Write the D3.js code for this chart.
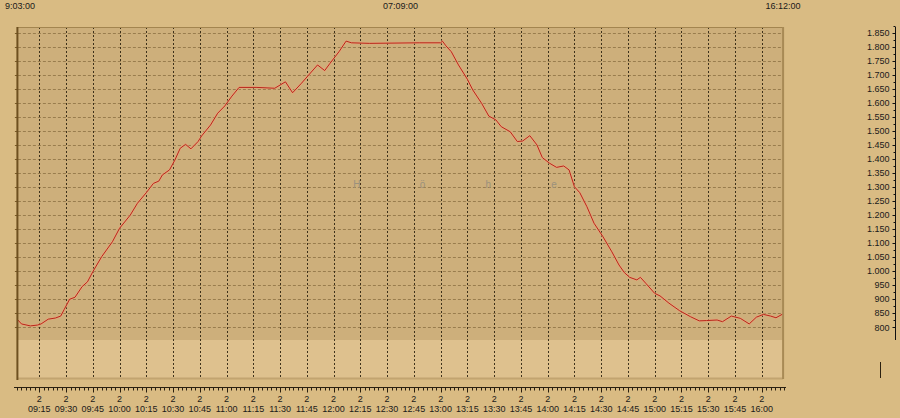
<!DOCTYPE html>
<html>
<head>
<meta charset="utf-8">
<script src="https://cdn.jsdelivr.net/npm/d3@7"></script>
<style>
  html, body { margin: 0; padding: 0; background: #d9bb83; }
  svg { display: block; font-family: "Liberation Sans", Arial, sans-serif; }
</style>
</head>
<body>
<div id="chart"></div>
<script>
// track recording: time of day and elevation (m)
const timeDomain = ["09:03", "16:12"];
const times = [
  "09:03", "09:05", "09:10", "09:14", "09:16", "09:20", "09:24", "09:27", "09:29", "09:32",
  "09:35", "09:39", "09:42", "09:45", "09:50", "09:56", "10:00", "10:06", "10:10", "10:15",
  "10:19", "10:22", "10:24", "10:28", "10:31", "10:34", "10:37", "10:40", "10:44", "10:46",
  "10:51", "10:55", "10:59", "11:03", "11:07", "11:17", "11:27", "11:33", "11:37", "11:42",
  "11:46", "11:51", "11:55", "11:58", "12:03", "12:07", "12:10", "12:20", "12:48", "13:00",
  "13:01", "13:03", "13:06", "13:10", "13:15", "13:18", "13:23", "13:27", "13:31", "13:34",
  "13:39", "13:43", "13:46", "13:50", "13:54", "13:57", "14:01", "14:05", "14:09", "14:12",
  "14:15", "14:18", "14:22", "14:26", "14:31", "14:36", "14:40", "14:43", "14:46", "14:50",
  "14:52", "14:55", "15:00", "15:03", "15:08", "15:14", "15:20", "15:25", "15:29", "15:35",
  "15:38", "15:43", "15:48", "15:53", "15:57", "16:01", "16:05", "16:08", "16:12"
];
const elevations = [
  826, 812, 805, 808, 812, 829, 833, 840, 864, 900,
  907, 945, 962, 998, 1052, 1105, 1153, 1200, 1242, 1280,
  1313, 1321, 1343, 1361, 1396, 1438, 1452, 1436, 1462, 1482,
  1521, 1563, 1589, 1624, 1655, 1655, 1652, 1675, 1636, 1670,
  1699, 1735, 1715, 1741, 1782, 1820, 1814, 1812, 1814, 1814,
  1820, 1803, 1782, 1735, 1684, 1646, 1598, 1553, 1539, 1515,
  1497, 1462, 1464, 1483, 1450, 1405, 1385, 1370, 1375, 1361,
  1301, 1280, 1230, 1171, 1123, 1069, 1022, 995, 978, 969,
  978, 957, 921, 912, 886, 859, 838, 823, 824, 826,
  820, 840, 832, 812, 836, 846, 840, 834, 848
];
const yTicks = [800, 850, 900, 950, 1000, 1050, 1100, 1150, 1200, 1250, 1300,
  1350, 1400, 1450, 1500, 1550, 1600, 1650, 1700, 1750, 1800, 1850];
const xTicks = ["09:15", "09:30", "09:45", "10:00", "10:15", "10:30", "10:45", "11:00",
  "11:15", "11:30", "11:45", "12:00", "12:15", "12:30", "12:45", "13:00", "13:15",
  "13:30", "13:45", "14:00", "14:15", "14:30", "14:45", "15:00", "15:15", "15:30",
  "15:45", "16:00"];
const dayLabel = "2";
const titleLetters = ["H", "ö", "h", "e"];

const W = 900, H = 418;
const pLeft = 17.9, pRight = 783.1, pTop = 27, pDark = 340, pBottom = 379;

const parse = d3.timeParse("%H:%M");
const data = times.map((t, i) => ({ t: parse(t), v: elevations[i] }));
const t0 = parse(timeDomain[0]), t1 = parse(timeDomain[1]);

const x = d3.scaleTime().domain([t0, t1]).range([pLeft, pRight]);
const y = d3.scaleLinear().domain([800, 1850]).range([327.3, 32.7]);

const de = d3.formatLocale({ decimal: ",", thousands: ".", grouping: [3], currency: ["", " €"] });
const fmtY = de.format(",d");

const svg = d3.select("#chart").append("svg")
  .attr("width", W).attr("height", H);

svg.append("rect").attr("width", W).attr("height", H).attr("fill", "#d9bb83");

// plot background: dark upper part, lighter lower band
svg.append("rect").attr("x", pLeft).attr("y", pTop)
  .attr("width", pRight - pLeft).attr("height", pDark - pTop).attr("fill", "#cdaf7b");
svg.append("rect").attr("x", pLeft).attr("y", pDark)
  .attr("width", pRight - pLeft).attr("height", pBottom - pDark).attr("fill", "#dec18e");
svg.append("line").attr("x1", pLeft).attr("x2", pRight).attr("y1", pBottom - 0.5).attr("y2", pBottom - 0.5)
  .attr("stroke", "#c2a470").attr("stroke-width", 2);

// horizontal grid
svg.append("g").selectAll("line").data(yTicks).join("line")
  .attr("x1", pLeft).attr("x2", pRight)
  .attr("y1", d => Math.round(y(d)) + 0.5).attr("y2", d => Math.round(y(d)) + 0.5)
  .attr("stroke", "#7d6235").attr("stroke-dasharray", "3,2").attr("stroke-opacity", 0.65);

// small ticks left of the frame
svg.append("g").selectAll("line").data(yTicks).join("line")
  .attr("x1", pLeft - 3).attr("x2", pLeft)
  .attr("y1", d => Math.round(y(d)) + 0.5).attr("y2", d => Math.round(y(d)) + 0.5)
  .attr("stroke", "#7a5c2a");

// vertical grid
const xt = xTicks.map(parse);
svg.append("g").selectAll("line").data(xt).join("line")
  .attr("x1", d => Math.round(x(d)) + 0.5).attr("x2", d => Math.round(x(d)) + 0.5)
  .attr("y1", pTop).attr("y2", pBottom)
  .attr("stroke", "#2e2410").attr("stroke-dasharray", "2,2").attr("stroke-opacity", 0.9);

// axis title spread over the plot
const midX = (pLeft + pRight) / 2 + 55;
svg.append("g").selectAll("text").data(titleLetters).join("text")
  .attr("x", (d, i) => midX + (i - 1.5) * 65.7).attr("y", 188)
  .attr("text-anchor", "middle").attr("font-size", 10).attr("fill", "#9b917d")
  .text(d => d);

// elevation line
const line = d3.line().x(d => x(d.t)).y(d => y(d.v));
svg.append("path").datum(data).attr("d", line)
  .attr("fill", "none").attr("stroke", "#eda27a").attr("stroke-width", 2.4)
  .attr("stroke-opacity", 0.65).attr("stroke-linejoin", "round");
svg.append("path").datum(data).attr("d", line)
  .attr("fill", "none").attr("stroke", "#b8261a").attr("stroke-width", 1)
  .attr("stroke-linejoin", "round");

// frame
svg.append("line").attr("x1", pLeft).attr("x2", pRight).attr("y1", pTop + 0.5).attr("y2", pTop + 0.5)
  .attr("stroke", "#a3854f");
svg.append("line").attr("x1", pRight).attr("x2", pRight).attr("y1", pTop).attr("y2", pBottom)
  .attr("stroke", "#a88a55").attr("stroke-width", 2);
svg.append("line").attr("x1", pLeft - 0.5).attr("x2", pLeft - 0.5).attr("y1", pTop).attr("y2", pBottom + 1)
  .attr("stroke", "#6e5020").attr("stroke-width", 2);

// right value axis
const yAxis = svg.append("g").attr("transform", "translate(895.5,0)");
yAxis.append("line").attr("y1", pTop).attr("y2", pDark).attr("stroke", "#111");
yAxis.selectAll(".minor").data(d3.range(800, 1876, 25)).join("line")
  .attr("x1", d => d % 50 === 0 ? -3 : -2).attr("x2", 0)
  .attr("y1", d => Math.round(y(d)) + 0.5).attr("y2", d => Math.round(y(d)) + 0.5)
  .attr("stroke", "#111");
yAxis.selectAll("text").data(yTicks).join("text")
  .attr("x", -6).attr("y", d => y(d) + 3.2)
  .attr("text-anchor", "end").attr("font-size", 9).attr("fill", "#1a1a1a")
  .text(d => fmtY(d));

// time axis
const axisY = 387.5;
svg.append("line").attr("x1", 14).attr("x2", 786).attr("y1", axisY).attr("y2", axisY)
  .attr("stroke", "#2a2010");
const minor = d3.range(0, 200).map(i => new Date(+parse("09:00") + i * 150000))
  .filter(d => x(d) >= 14 && x(d) <= 786);
svg.append("g").selectAll("line").data(minor).join("line")
  .attr("x1", d => Math.round(x(d)) + 0.5).attr("x2", d => Math.round(x(d)) + 0.5)
  .attr("y1", axisY).attr("y2", axisY + 3)
  .attr("stroke", "#2a2010");
svg.append("g").selectAll("line").data(xt).join("line")
  .attr("x1", d => Math.round(x(d)) + 0.5).attr("x2", d => Math.round(x(d)) + 0.5)
  .attr("y1", axisY).attr("y2", axisY + 5)
  .attr("stroke", "#2a2010");
const fmtX = d3.timeFormat("%H:%M");
svg.append("g").selectAll("text").data(xt).join("text")
  .attr("x", d => x(d)).attr("y", 401.5)
  .attr("text-anchor", "middle").attr("font-size", 9).attr("fill", "#1a1a1a")
  .text(dayLabel);
svg.append("g").selectAll("text").data(xt).join("text")
  .attr("x", d => x(d)).attr("y", 412)
  .attr("text-anchor", "middle").attr("font-size", 9).attr("fill", "#1a1a1a")
  .text(d => fmtX(d));

// start, duration and end across the top
const dur = (t1 - t0) / 1000;
const p2 = d3.format("02d");
const durText = p2(Math.floor(dur / 3600)) + ":" + p2(Math.floor(dur % 3600 / 60)) + ":" + p2(dur % 60);
svg.append("g").selectAll("text")
  .data([[pLeft + 2, d3.timeFormat("%-H:%M:%S")(t0)], [(pLeft + pRight) / 2, durText], [pRight, d3.timeFormat("%H:%M:%S")(t1)]])
  .join("text")
  .attr("x", d => d[0]).attr("y", 9)
  .attr("text-anchor", "middle").attr("font-size", 9).attr("fill", "#1a1a1a")
  .text(d => d[1]);

// small marker at the bottom right
svg.append("line").attr("x1", 880.5).attr("x2", 880.5).attr("y1", 362).attr("y2", 378)
  .attr("stroke", "#2a2010");
</script>
</body>
</html>
